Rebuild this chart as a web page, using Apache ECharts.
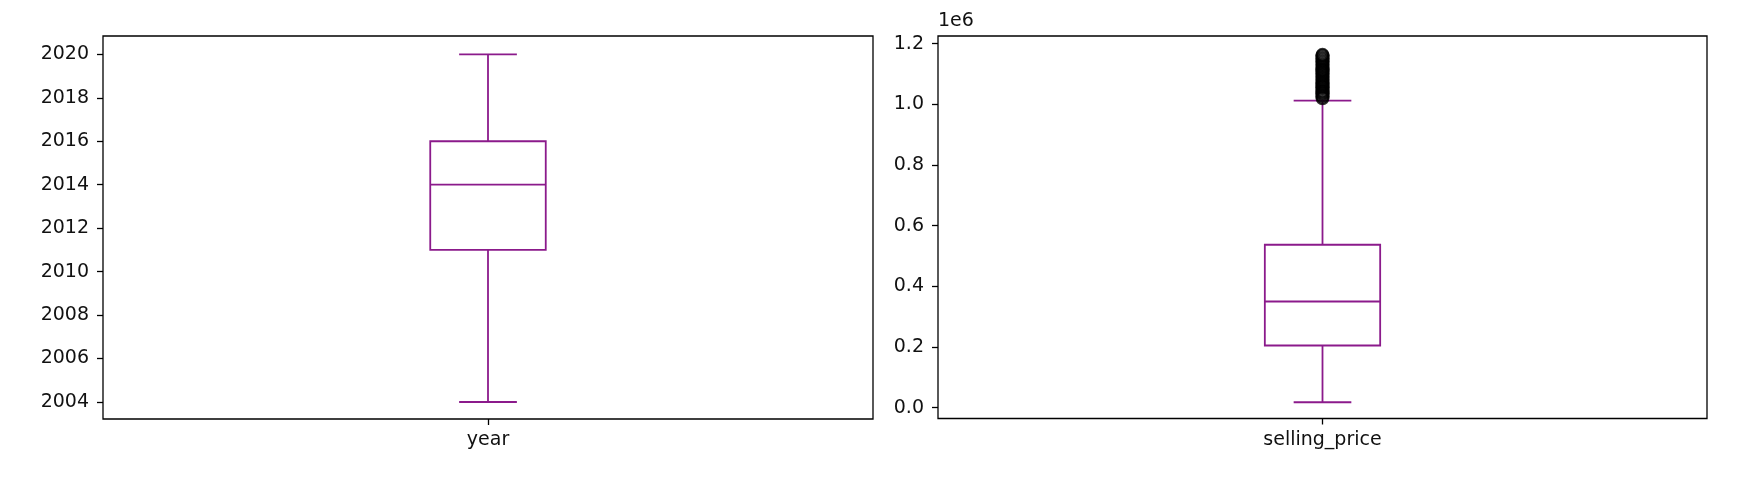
<!DOCTYPE html>
<html>
<head>
<meta charset="utf-8">
<script src="https://cdn.jsdelivr.net/npm/echarts@6/dist/echarts.min.js"></script>
<style>
html,body{margin:0;padding:0;background:#fff;}
#chart{width:1741px;height:489px;}
</style>
</head>
<body>
<div id="chart"></div>
<script>
// ---- data ----
const yearCategory = ['year'];
const yearStats = [2004, 2011, 2014, 2016, 2020]; // min, q1, median, q3, max
const yearTicks = [2004, 2006, 2008, 2010, 2012, 2014, 2016, 2018, 2020];

const priceCategory = ['selling_price'];
const priceStats = [18000, 205000, 350000, 537000, 1012000];
const priceOutliers = [1020000, 1025000, 1030000, 1035000, 1038000, 1042000, 1045000, 1050000,
  1055000, 1058000, 1062000, 1066000, 1070000, 1075000, 1080000, 1085000, 1090000, 1095000,
  1100000, 1104000, 1108000, 1112000, 1115000, 1120000, 1125000, 1130000, 1135000, 1140000,
  1145000, 1150000, 1155000, 1160000, 1163000];
const priceTicks = [0, 200000, 400000, 600000, 800000, 1000000, 1200000];

// ---- style ----
const FONT = 'DejaVu Sans';
const FS = 19;
const BOX = '#8b1a8b';
const LW = 1.8;

function boxRender(params, api) {
  const x = 0;
  const pMin = api.coord([x, api.value(1)]);
  const pQ1 = api.coord([x, api.value(2)]);
  const pMed = api.coord([x, api.value(3)]);
  const pQ3 = api.coord([x, api.value(4)]);
  const pMax = api.coord([x, api.value(5)]);
  const band = api.size([1, 0])[0];
  const hw = band * 0.15 / 2;
  const cw = hw / 2;
  const cx = pMed[0];
  const st = {stroke: BOX, lineWidth: LW, fill: null};
  return {
    type: 'group',
    children: [
      {type: 'rect', shape: {x: cx - hw, y: pQ3[1], width: hw * 2, height: pQ1[1] - pQ3[1]}, style: {stroke: BOX, lineWidth: LW, fill: 'none'}},
      {type: 'line', shape: {x1: cx - hw, y1: pMed[1], x2: cx + hw, y2: pMed[1]}, style: st},
      {type: 'line', shape: {x1: cx, y1: pQ3[1], x2: cx, y2: pMax[1]}, style: st},
      {type: 'line', shape: {x1: cx, y1: pQ1[1], x2: cx, y2: pMin[1]}, style: st},
      {type: 'line', shape: {x1: cx - cw, y1: pMax[1], x2: cx + cw, y2: pMax[1]}, style: st},
      {type: 'line', shape: {x1: cx - cw, y1: pMin[1], x2: cx + cw, y2: pMin[1]}, style: st}
    ]
  };
}

const frameAxisX = (gi, cats) => ({
  type: 'category', gridIndex: gi, data: cats,
  axisLine: {show: false},
  axisTick: {show: true, alignWithLabel: true, length: 6, lineStyle: {color: '#000', width: 1.3}},
  axisLabel: {fontFamily: FONT, fontSize: FS, color: '#111', margin: 12},
  splitLine: {show: false}
});
const hiddenX = (gi, cats) => ({type: 'category', gridIndex: gi, data: cats, show: false});
const hiddenY = (gi) => ({type: 'value', gridIndex: gi, min: 0, max: 1, show: false});

const chart = echarts.init(document.getElementById('chart'), null, {renderer: 'canvas'});
chart.setOption({
  animation: false,
  backgroundColor: '#fff',
  grid: [
    {left: 103, top: 36, width: 770, height: 383, show: true, borderColor: '#000', borderWidth: 1.3, backgroundColor: 'transparent'},
    {left: 103, top: 54.3, width: 770, height: 347.7},
    {left: 938, top: 36, width: 769, height: 382.5, show: true, borderColor: '#000', borderWidth: 1.3, backgroundColor: 'transparent'},
    {left: 938, top: 43.6, width: 769, height: 364.1}
  ],
  xAxis: [
    frameAxisX(0, yearCategory),
    hiddenX(1, yearCategory),
    frameAxisX(2, priceCategory),
    hiddenX(3, priceCategory)
  ],
  yAxis: [
    hiddenY(0),
    {
      type: 'value', gridIndex: 1, min: yearTicks[0], max: yearTicks[yearTicks.length - 1], interval: 2,
      axisLine: {show: false},
      axisTick: {show: true, length: 6, lineStyle: {color: '#000', width: 1.3}},
      axisLabel: {fontFamily: FONT, fontSize: FS, color: '#111', margin: 14, formatter: v => String(v)},
      splitLine: {show: false}
    },
    hiddenY(2),
    {
      type: 'value', gridIndex: 3, min: priceTicks[0], max: priceTicks[priceTicks.length - 1], interval: 200000,
      axisLine: {show: false},
      axisTick: {show: true, length: 6, lineStyle: {color: '#000', width: 1.3}},
      axisLabel: {fontFamily: FONT, fontSize: FS, color: '#111', margin: 14,
        formatter: v => (v / 1e6).toFixed(1)},
      splitLine: {show: false}
    }
  ],
  graphic: [
    {type: 'text', left: 938, top: 12, style: {text: '1e6', fontFamily: FONT, fontSize: FS, fill: '#111'}}
  ],
  series: [
    {
      type: 'custom', xAxisIndex: 1, yAxisIndex: 1,
      renderItem: boxRender,
      encode: {x: 0, y: [1, 2, 3, 4, 5]},
      data: [[0].concat(yearStats)]
    },
    {
      type: 'custom', xAxisIndex: 3, yAxisIndex: 3,
      renderItem: boxRender,
      encode: {x: 0, y: [1, 2, 3, 4, 5]},
      data: [[0].concat(priceStats)]
    },
    {
      type: 'scatter', xAxisIndex: 3, yAxisIndex: 3,
      symbol: 'circle', symbolSize: 12,
      itemStyle: {color: 'transparent', borderColor: '#000', borderWidth: 2},
      data: priceOutliers.map(v => [0, v])
    }
  ]
});
</script>
</body>
</html>
